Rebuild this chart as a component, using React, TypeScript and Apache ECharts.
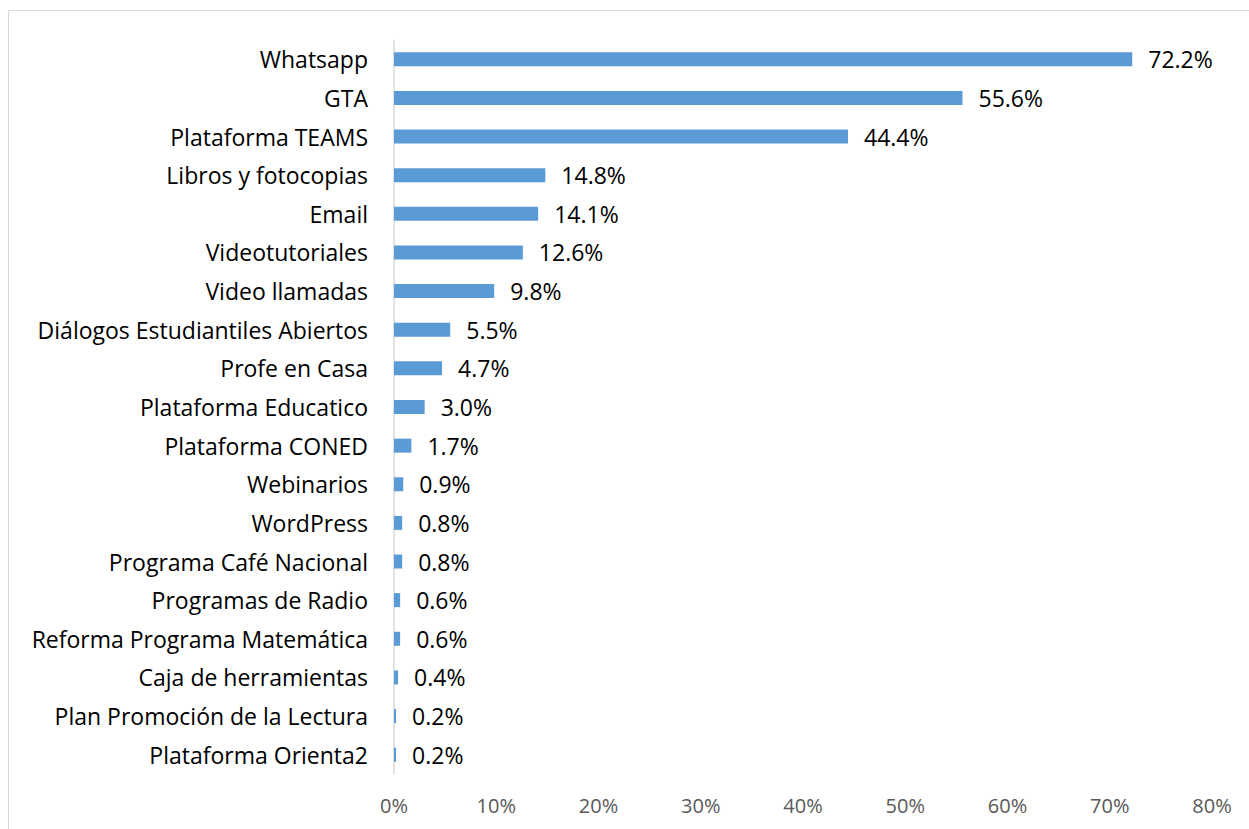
import React, { useEffect, useRef } from "react";
import * as echarts from "echarts";

const categories = [
  "Whatsapp",
  "GTA",
  "Plataforma TEAMS",
  "Libros y fotocopias",
  "Email",
  "Videotutoriales",
  "Video llamadas",
  "Diálogos Estudiantiles Abiertos",
  "Profe en Casa",
  "Plataforma Educatico",
  "Plataforma CONED",
  "Webinarios",
  "WordPress",
  "Programa Café Nacional",
  "Programas de Radio",
  "Reforma Programa Matemática",
  "Caja de herramientas",
  "Plan Promoción de la Lectura",
  "Plataforma Orienta2",
];

const values = [72.2, 55.6, 44.4, 14.8, 14.1, 12.6, 9.8, 5.5, 4.7, 3.0, 1.7, 0.9, 0.8, 0.8, 0.6, 0.6, 0.4, 0.2, 0.2];

const FONT = "'Open Sans', 'Noto Sans', sans-serif";

export default function App() {
  const ref = useRef<HTMLDivElement>(null);
  useEffect(() => {
    if (!ref.current) return;
    const chart = echarts.init(ref.current, null, { renderer: "svg" });
    chart.setOption({
      animation: false,
      backgroundColor: "#ffffff",
      grid: { left: 394, right: 37, top: 40, bottom: 55, containLabel: false },
      xAxis: {
        type: "value",
        min: 0,
        max: 80,
        interval: 10,
        axisLine: { show: false },
        axisTick: { show: false },
        splitLine: { show: false },
        axisLabel: {
          formatter: (v: number) => v + "%",
          color: "#595959",
          fontSize: 20,
          fontFamily: FONT,
          margin: 21,
        },
      },
      yAxis: {
        type: "category",
        data: categories,
        inverse: true,
        axisLine: { show: true, lineStyle: { color: "#D9D9D9", width: 1.5 } },
        axisTick: { show: false },
        axisLabel: {
          color: "#000000",
          fontSize: 23,
          fontFamily: FONT,
          margin: 26,
        },
      },
      series: [
        {
          type: "bar",
          data: values,
          barWidth: 14,
          itemStyle: { color: "#5B9BD5" },
          label: {
            show: true,
            position: "right",
            distance: 16,
            formatter: (p: any) => Number(p.value).toFixed(1) + "%",
            color: "#000000",
            fontSize: 23,
            fontFamily: FONT,
          },
        },
      ],
      graphic: [
        {
          type: "rect",
          shape: { x: 8.5, y: 10.5, width: 1400, height: 1000 },
          style: { fill: "none", stroke: "#D9D9D9", lineWidth: 1 },
          silent: true,
        },
      ],
    });
    return () => chart.dispose();
  }, []);
  return (
    <div
      ref={ref}
      style={{ position: "fixed", left: 0, top: 0, width: 1249, height: 829 }}
    />
  );
}
